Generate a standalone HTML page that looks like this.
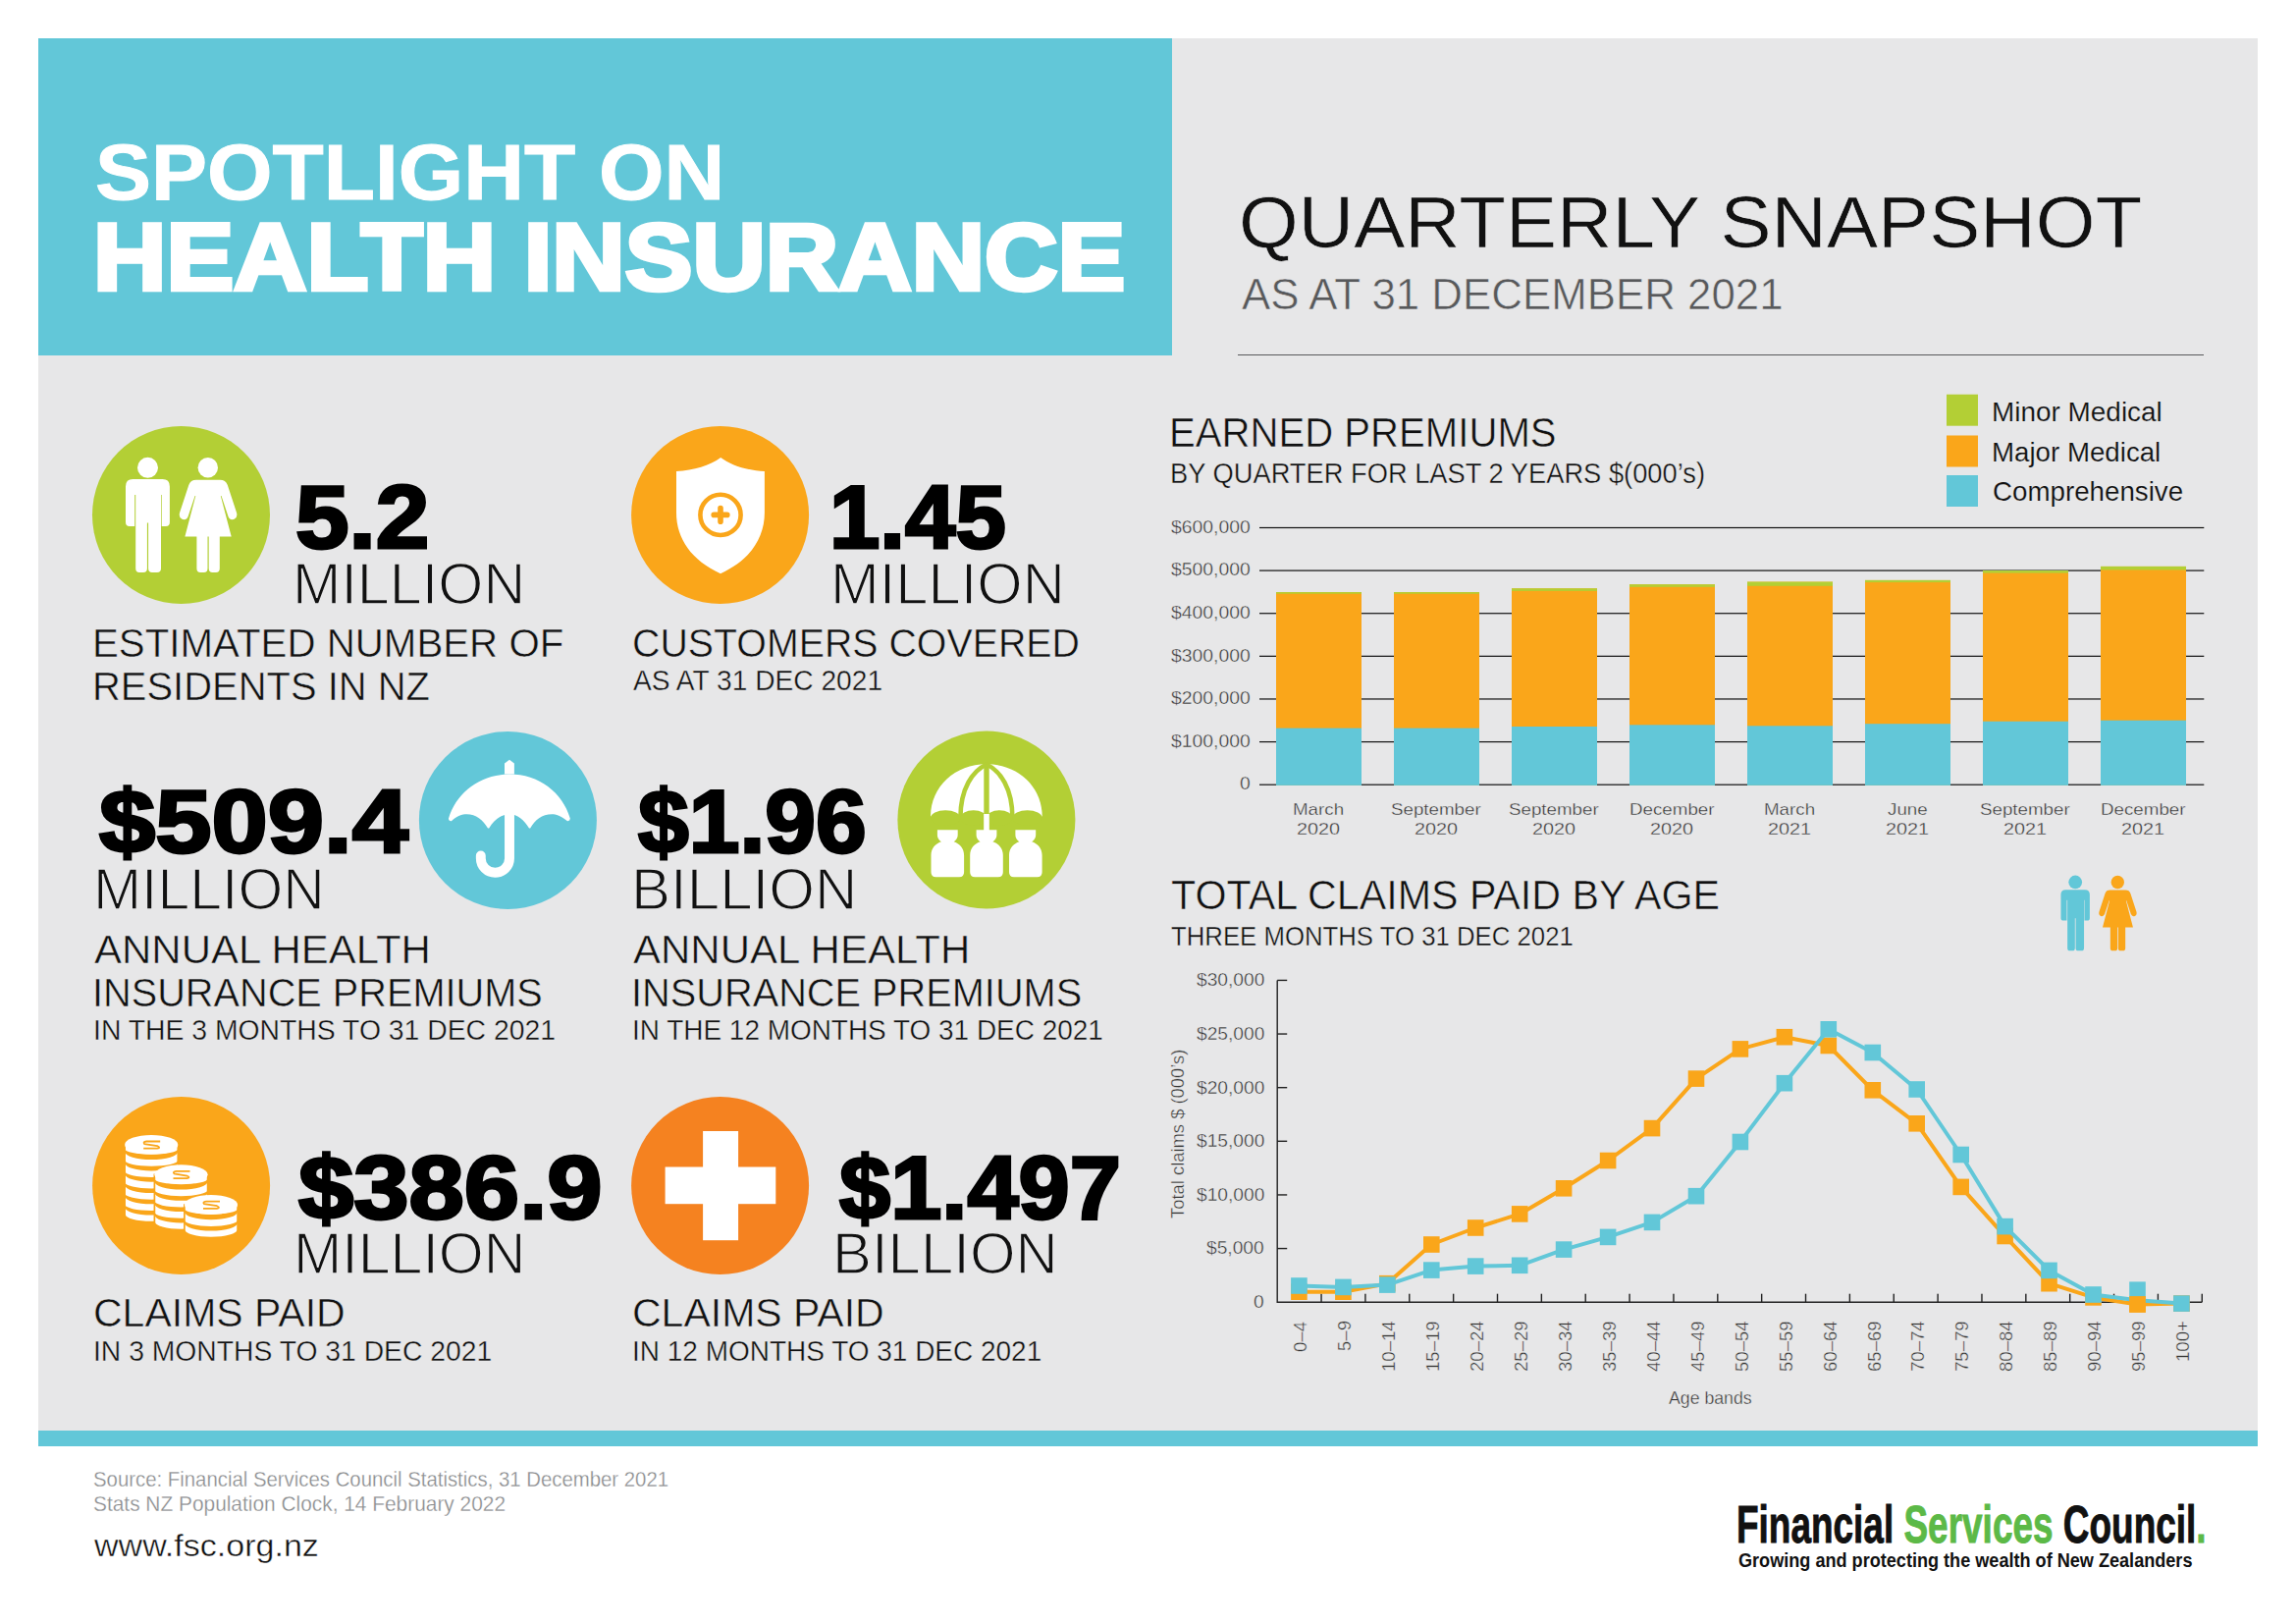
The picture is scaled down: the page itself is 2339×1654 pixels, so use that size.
<!DOCTYPE html>
<html><head><meta charset="utf-8"><title>Spotlight on Health Insurance</title>
<style>
html,body{margin:0;padding:0;background:#fff;}
body{width:2339px;height:1654px;position:relative;overflow:hidden;font-family:"Liberation Sans",sans-serif;}
.t{position:absolute;white-space:nowrap;line-height:1;transform-origin:0 0;margin:0;padding:0;}
svg{position:absolute;left:0;top:0;}
</style></head><body>
<div style="position:absolute;left:39px;top:39px;width:2261px;height:1418px;background:#e7e7e8"></div>
<div style="position:absolute;left:39px;top:39px;width:1155px;height:323px;background:#62c7d8"></div>
<div style="position:absolute;left:39px;top:1457px;width:2261px;height:16px;background:#62c7d8"></div>
<div style="position:absolute;left:1261px;top:360.5px;width:984px;height:1.3px;background:#58595b"></div>
<svg width="2339" height="1654" viewBox="0 0 2339 1654">
<circle cx="184.5" cy="524.5" r="90.5" fill="#b3cf35"/>
<g transform="translate(84,424)" fill="#fff"><circle cx="66.5" cy="52.3" r="10.5"/><path d="M51.4 64 H81.5 Q88.9 64 88.9 71.4 V108 Q88.9 112 84.9 112 H80.7 V80 H80 V155 Q80 158.9 76 158.9 H71 Q67.1 158.9 67.1 155 V108.4 H65.9 V155 Q65.9 158.9 62 158.9 H58 Q54.2 158.9 54.2 155 V80 H53.2 V112 H48 Q44 112 44 108 V71.4 Q44 64 51.4 64 Z"/><circle cx="127.8" cy="52.3" r="10.2"/><path d="M116 64.7 H140 Q146 64.7 147.8 70 L157 98 Q158.4 103 154.6 104.8 Q150.4 106.4 148.5 102 L141.5 81 H140.8 L151.7 122.5 H139.8 V155 Q139.8 158.9 136 158.9 H132.5 Q128.7 158.9 128.7 155 V122.5 H127.5 V155 Q127.5 158.9 123.7 158.9 H120.2 Q116.4 158.9 116.4 155 V122.5 H104.4 L115.3 81 H114.6 L107.6 102 Q105.7 106.4 101.5 104.8 Q97.7 103 99.1 98 L108.3 70 Q110 64.7 116 64.7 Z"/></g>
<circle cx="733.6" cy="524.5" r="90.5" fill="#faa61a"/>
<g transform="translate(633,424)"><path fill="#fff" d="M101.2 41.9 C112 50 128 55 145.9 56 V98 C145.9 125 130 147 101 160.2 C72 147 56 125 56 98 V56 C74 55 90 50 101.2 41.9 Z"/><circle cx="101" cy="100.4" r="20.6" fill="none" stroke="#faa61a" stroke-width="4.6"/><path d="M101 93.6 V107.2 M94.2 100.4 H107.8" stroke="#faa61a" stroke-width="5.6" stroke-linecap="round" fill="none"/></g>
<circle cx="517.4" cy="835.4" r="90.5" fill="#62c7d8"/>
<g transform="translate(417,735)" fill="#fff"><path d="M97 53.5 V42.5 L102 38.8 L106.9 42.5 V53.5 Z"/><path d="M40 98.5 C48 72 72 53.6 102 53.6 C132 53.6 156 72 163.8 98.5 Q164 101.5 161 101.3 C155 96 149 94.2 145.3 94.2 C135 94.2 128 100 123.2 108.6 H122 C117 100 110 94.2 102 94.2 C94 94.2 86 100 81.2 108.6 H80 C75 100 68 94.2 58.5 94.2 C54 94.2 48 96 42.9 101.3 Q39.8 101.5 40 98.5 Z"/><path d="M102 93 V139.2 A14.6 14.6 0 0 1 72.8 139.2 V136.5" fill="none" stroke="#fff" stroke-width="9.9" stroke-linecap="round"/></g>
<circle cx="1004.9" cy="835" r="90.5" fill="#b3cf35"/>
<g transform="translate(905,735)"><path fill="#fff" d="M43 96.6 C43 66 68 43.2 100 43.2 C132 43.2 156.7 66 156.7 96.6 Z"/><path d="M100 42 V97" stroke="#b3cf35" stroke-width="5.4" fill="none"/><path d="M100 43.5 C86 50 73.4 68 73.4 98 M100 43.5 C114 50 126.4 68 126.4 98" stroke="#b3cf35" stroke-width="4.6" fill="none"/><ellipse cx="58.2" cy="98" rx="15.2" ry="7.8" fill="#b3cf35"/><ellipse cx="86.7" cy="98" rx="13.3" ry="7.8" fill="#b3cf35"/><ellipse cx="113.2" cy="98" rx="13.2" ry="7.8" fill="#b3cf35"/><ellipse cx="141.6" cy="98" rx="15.1" ry="7.8" fill="#b3cf35"/><rect x="97.2" y="94" width="5.6" height="18" fill="#fff"/><path fill="#fff" d="M49.9 110.3 H70.7 V115 C70.7 119 68.3 121 66.7 122.3 C72.3 124 77.1 129 77.1 136 V153.3 Q77.1 158.3 72.1 158.3 H48.5 Q43.5 158.3 43.5 153.3 V136 C43.5 129 48.3 124 53.9 122.3 C52.3 121 49.9 119 49.9 115 Z"/><path fill="#fff" d="M89.6 110.3 H110.4 V115 C110.4 119 108.0 121 106.4 122.3 C112.0 124 116.8 129 116.8 136 V153.3 Q116.8 158.3 111.8 158.3 H88.2 Q83.2 158.3 83.2 153.3 V136 C83.2 129 88.0 124 93.6 122.3 C92.0 121 89.6 119 89.6 115 Z"/><path fill="#fff" d="M129.4 110.3 H150.2 V115 C150.2 119 147.8 121 146.2 122.3 C151.8 124 156.6 129 156.6 136 V153.3 Q156.6 158.3 151.6 158.3 H128.0 Q123.0 158.3 123.0 153.3 V136 C123.0 129 127.8 124 133.4 122.3 C131.8 121 129.4 119 129.4 115 Z"/></g>
<circle cx="184.6" cy="1207.6" r="90.5" fill="#faa61a"/>
<g transform="translate(84,1107)"><path d="M43.1 58.9 V130.20 A27.1 7.5 0 0 0 97.30000000000001 130.20 V58.9 Z" fill="#fff" stroke="#faa61a" stroke-width="1.7"/><path d="M43.1 63.20 A27.1 5.4 0 0 0 97.30000000000001 63.20 V66.00 A27.1 8.1 0 0 1 43.1 66.00 Z" fill="#faa61a"/><path d="M43.1 74.50 A27.1 6.3 0 0 0 97.30000000000001 74.50 V77.30 A27.1 8.1 0 0 1 43.1 77.30 Z" fill="#faa61a"/><path d="M43.1 85.80 A27.1 6.3 0 0 0 97.30000000000001 85.80 V88.60 A27.1 8.1 0 0 1 43.1 88.60 Z" fill="#faa61a"/><path d="M43.1 97.10 A27.1 6.3 0 0 0 97.30000000000001 97.10 V99.90 A27.1 8.1 0 0 1 43.1 99.90 Z" fill="#faa61a"/><path d="M43.1 108.40 A27.1 6.3 0 0 0 97.30000000000001 108.40 V111.20 A27.1 8.1 0 0 1 43.1 111.20 Z" fill="#faa61a"/><path d="M43.1 119.70 A27.1 6.3 0 0 0 97.30000000000001 119.70 V122.50 A27.1 8.1 0 0 1 43.1 122.50 Z" fill="#faa61a"/><ellipse cx="70.2" cy="58.9" rx="27.1" ry="9.95" fill="#fff"/><path d="M79.2 55.5 H65.2 Q61.2 55.9 63.2 58.1 L76.2 60.1 Q80.2 61.9 76.2 62.699999999999996 H62.2" fill="none" stroke="#faa61a" stroke-width="1.8"/><path d="M73.4 89.3 V138.00 A27.1 7.5 0 0 0 127.6 138.00 V89.3 Z" fill="#fff" stroke="#faa61a" stroke-width="1.7"/><path d="M73.4 93.60 A27.1 5.4 0 0 0 127.6 93.60 V96.40 A27.1 8.1 0 0 1 73.4 96.40 Z" fill="#faa61a"/><path d="M73.4 104.90 A27.1 6.3 0 0 0 127.6 104.90 V107.70 A27.1 8.1 0 0 1 73.4 107.70 Z" fill="#faa61a"/><path d="M73.4 116.20 A27.1 6.3 0 0 0 127.6 116.20 V119.00 A27.1 8.1 0 0 1 73.4 119.00 Z" fill="#faa61a"/><path d="M73.4 127.50 A27.1 6.3 0 0 0 127.6 127.50 V130.30 A27.1 8.1 0 0 1 73.4 130.30 Z" fill="#faa61a"/><ellipse cx="100.5" cy="89.3" rx="27.1" ry="9.95" fill="#fff"/><path d="M109.5 85.89999999999999 H95.5 Q91.5 86.3 93.5 88.5 L106.5 90.5 Q110.5 92.3 106.5 93.1 H92.5" fill="none" stroke="#faa61a" stroke-width="1.8"/><path d="M103.9 120.0 V146.10 A27.1 7.5 0 0 0 158.1 146.10 V120.0 Z" fill="#fff" stroke="#faa61a" stroke-width="1.7"/><path d="M103.9 124.30 A27.1 5.4 0 0 0 158.1 124.30 V127.10 A27.1 8.1 0 0 1 103.9 127.10 Z" fill="#faa61a"/><path d="M103.9 135.60 A27.1 6.3 0 0 0 158.1 135.60 V138.40 A27.1 8.1 0 0 1 103.9 138.40 Z" fill="#faa61a"/><ellipse cx="131.0" cy="120.0" rx="27.1" ry="9.95" fill="#fff"/><path d="M140.0 116.6 H126.0 Q122.0 117.0 124.0 119.2 L137.0 121.2 Q141.0 123.0 137.0 123.8 H123.0" fill="none" stroke="#faa61a" stroke-width="1.8"/></g>
<circle cx="733.6" cy="1207.6" r="90.5" fill="#f58220"/>
<g transform="translate(633,1107)" fill="#fff"><rect x="83.1" y="45" width="36" height="111.2"/><rect x="44.6" y="81.5" width="112.7" height="37.7"/></g>
<g transform="translate(2070.64,864.24) scale(0.655)" fill="#62c7d8"><circle cx="66.5" cy="52.3" r="10.5"/><path d="M51.4 64 H81.5 Q88.9 64 88.9 71.4 V108 Q88.9 112 84.9 112 H80.7 V80 H80 V155 Q80 158.9 76 158.9 H71 Q67.1 158.9 67.1 155 V108.4 H65.9 V155 Q65.9 158.9 62 158.9 H58 Q54.2 158.9 54.2 155 V80 H53.2 V112 H48 Q44 112 44 108 V71.4 Q44 64 51.4 64 Z"/></g>
<g transform="translate(2073.59,864.24) scale(0.655)" fill="#faa61a"><circle cx="127.8" cy="52.3" r="10.2"/><path d="M116 64.7 H140 Q146 64.7 147.8 70 L157 98 Q158.4 103 154.6 104.8 Q150.4 106.4 148.5 102 L141.5 81 H140.8 L151.7 122.5 H139.8 V155 Q139.8 158.9 136 158.9 H132.5 Q128.7 158.9 128.7 155 V122.5 H127.5 V155 Q127.5 158.9 123.7 158.9 H120.2 Q116.4 158.9 116.4 155 V122.5 H104.4 L115.3 81 H114.6 L107.6 102 Q105.7 106.4 101.5 104.8 Q97.7 103 99.1 98 L108.3 70 Q110 64.7 116 64.7 Z"/></g>
<rect x="1983" y="401.7" width="32" height="32" fill="#b3cf35"/>
<rect x="1983" y="443.5" width="32" height="32" fill="#faa61a"/>
<rect x="1983" y="484" width="32" height="32" fill="#62c7d8"/>
<rect x="1283" y="798.60" width="962.3" height="1.2" fill="#111"/>
<rect x="1283" y="754.98" width="962.3" height="1.2" fill="#111"/>
<rect x="1283" y="711.36" width="962.3" height="1.2" fill="#111"/>
<rect x="1283" y="667.74" width="962.3" height="1.2" fill="#111"/>
<rect x="1283" y="624.12" width="962.3" height="1.2" fill="#111"/>
<rect x="1283" y="580.50" width="962.3" height="1.2" fill="#111"/>
<rect x="1283" y="536.88" width="962.3" height="1.2" fill="#111"/>
<rect x="1300" y="603.1" width="87" height="196.80" fill="#faa61a"/>
<rect x="1300" y="603.1" width="87" height="1.6" fill="#b3cf35"/>
<rect x="1300" y="741.6" width="87" height="58.30" fill="#62c7d8"/>
<rect x="1420" y="603.1" width="87" height="196.80" fill="#faa61a"/>
<rect x="1420" y="603.1" width="87" height="1.6" fill="#b3cf35"/>
<rect x="1420" y="741.6" width="87" height="58.30" fill="#62c7d8"/>
<rect x="1540" y="599.3" width="87" height="200.60" fill="#faa61a"/>
<rect x="1540" y="599.3" width="87" height="2.6" fill="#b3cf35"/>
<rect x="1540" y="740" width="87" height="59.90" fill="#62c7d8"/>
<rect x="1660" y="595.2" width="87" height="204.70" fill="#faa61a"/>
<rect x="1660" y="595.2" width="87" height="2.6" fill="#b3cf35"/>
<rect x="1660" y="738.3" width="87" height="61.60" fill="#62c7d8"/>
<rect x="1780" y="592.6" width="87" height="207.30" fill="#faa61a"/>
<rect x="1780" y="592.6" width="87" height="4.2" fill="#b3cf35"/>
<rect x="1780" y="739.3" width="87" height="60.60" fill="#62c7d8"/>
<rect x="1900" y="590.9" width="87" height="209.00" fill="#faa61a"/>
<rect x="1900" y="590.9" width="87" height="2.2" fill="#b3cf35"/>
<rect x="1900" y="737.2" width="87" height="62.70" fill="#62c7d8"/>
<rect x="2020" y="581" width="87" height="218.90" fill="#faa61a"/>
<rect x="2020" y="581" width="87" height="2.6" fill="#b3cf35"/>
<rect x="2020" y="734.7" width="87" height="65.20" fill="#62c7d8"/>
<rect x="2140" y="576.9" width="87" height="223.00" fill="#faa61a"/>
<rect x="2140" y="576.9" width="87" height="3.6" fill="#b3cf35"/>
<rect x="2140" y="733.7" width="87" height="66.20" fill="#62c7d8"/>
<path d="M1301.2 998.4 V1326.2 H2243.3" fill="none" stroke="#222" stroke-width="1.4"/>
<rect x="1301.2" y="1270.87" width="10" height="1.4" fill="#222"/>
<rect x="1301.2" y="1216.24" width="10" height="1.4" fill="#222"/>
<rect x="1301.2" y="1161.61" width="10" height="1.4" fill="#222"/>
<rect x="1301.2" y="1106.98" width="10" height="1.4" fill="#222"/>
<rect x="1301.2" y="1052.35" width="10" height="1.4" fill="#222"/>
<rect x="1301.2" y="997.72" width="10" height="1.4" fill="#222"/>
<rect x="1345.36" y="1317.7" width="1.4" height="8.5" fill="#222"/>
<rect x="1390.22" y="1317.7" width="1.4" height="8.5" fill="#222"/>
<rect x="1435.08" y="1317.7" width="1.4" height="8.5" fill="#222"/>
<rect x="1479.94" y="1317.7" width="1.4" height="8.5" fill="#222"/>
<rect x="1524.80" y="1317.7" width="1.4" height="8.5" fill="#222"/>
<rect x="1569.66" y="1317.7" width="1.4" height="8.5" fill="#222"/>
<rect x="1614.52" y="1317.7" width="1.4" height="8.5" fill="#222"/>
<rect x="1659.38" y="1317.7" width="1.4" height="8.5" fill="#222"/>
<rect x="1704.24" y="1317.7" width="1.4" height="8.5" fill="#222"/>
<rect x="1749.10" y="1317.7" width="1.4" height="8.5" fill="#222"/>
<rect x="1793.96" y="1317.7" width="1.4" height="8.5" fill="#222"/>
<rect x="1838.82" y="1317.7" width="1.4" height="8.5" fill="#222"/>
<rect x="1883.68" y="1317.7" width="1.4" height="8.5" fill="#222"/>
<rect x="1928.54" y="1317.7" width="1.4" height="8.5" fill="#222"/>
<rect x="1973.40" y="1317.7" width="1.4" height="8.5" fill="#222"/>
<rect x="2018.26" y="1317.7" width="1.4" height="8.5" fill="#222"/>
<rect x="2063.12" y="1317.7" width="1.4" height="8.5" fill="#222"/>
<rect x="2107.98" y="1317.7" width="1.4" height="8.5" fill="#222"/>
<rect x="2152.84" y="1317.7" width="1.4" height="8.5" fill="#222"/>
<rect x="2197.70" y="1317.7" width="1.4" height="8.5" fill="#222"/>
<rect x="2242.56" y="1317.7" width="1.4" height="8.5" fill="#222"/>
<polyline points="1323.4,1315.7 1368.4,1315.7 1413.3,1307.2 1458.2,1267.5 1503.2,1250.5 1548.2,1236.4 1593.1,1210.3 1638.1,1182.0 1683.0,1149.1 1728.0,1098.6 1772.9,1068.4 1817.9,1056.2 1862.8,1065.0 1907.8,1110.3 1952.7,1144.3 1997.7,1208.9 2042.6,1259.0 2087.6,1307.2 2132.5,1321.4 2177.5,1328.4 2222.4,1327.6" fill="none" stroke="#faa61a" stroke-width="4" stroke-linejoin="round"/>
<rect x="1315.1" y="1307.4" width="16.6" height="16.6" fill="#faa61a"/>
<rect x="1360.1" y="1307.4" width="16.6" height="16.6" fill="#faa61a"/>
<rect x="1405.0" y="1298.9" width="16.6" height="16.6" fill="#faa61a"/>
<rect x="1450.0" y="1259.2" width="16.6" height="16.6" fill="#faa61a"/>
<rect x="1494.9" y="1242.2" width="16.6" height="16.6" fill="#faa61a"/>
<rect x="1539.9" y="1228.1" width="16.6" height="16.6" fill="#faa61a"/>
<rect x="1584.8" y="1202.0" width="16.6" height="16.6" fill="#faa61a"/>
<rect x="1629.8" y="1173.7" width="16.6" height="16.6" fill="#faa61a"/>
<rect x="1674.7" y="1140.8" width="16.6" height="16.6" fill="#faa61a"/>
<rect x="1719.7" y="1090.3" width="16.6" height="16.6" fill="#faa61a"/>
<rect x="1764.6" y="1060.1" width="16.6" height="16.6" fill="#faa61a"/>
<rect x="1809.6" y="1047.9" width="16.6" height="16.6" fill="#faa61a"/>
<rect x="1854.5" y="1056.7" width="16.6" height="16.6" fill="#faa61a"/>
<rect x="1899.5" y="1102.0" width="16.6" height="16.6" fill="#faa61a"/>
<rect x="1944.4" y="1136.0" width="16.6" height="16.6" fill="#faa61a"/>
<rect x="1989.4" y="1200.6" width="16.6" height="16.6" fill="#faa61a"/>
<rect x="2034.3" y="1250.7" width="16.6" height="16.6" fill="#faa61a"/>
<rect x="2079.2" y="1298.9" width="16.6" height="16.6" fill="#faa61a"/>
<rect x="2124.2" y="1313.1" width="16.6" height="16.6" fill="#faa61a"/>
<rect x="2169.2" y="1320.1" width="16.6" height="16.6" fill="#faa61a"/>
<rect x="2214.1" y="1319.3" width="16.6" height="16.6" fill="#faa61a"/>
<polyline points="1323.4,1309.5 1368.4,1310.9 1413.3,1308.6 1458.2,1293.6 1503.2,1289.6 1548.2,1288.8 1593.1,1272.6 1638.1,1259.9 1683.0,1244.9 1728.0,1218.2 1772.9,1163.0 1817.9,1103.2 1862.8,1048.3 1907.8,1072.0 1952.7,1109.5 1997.7,1176.0 2042.6,1249.1 2087.6,1293.9 2132.5,1318.5 2177.5,1324.3 2222.4,1327.6" fill="none" stroke="#62c7d8" stroke-width="4" stroke-linejoin="round"/>
<rect x="1315.1" y="1301.2" width="16.6" height="16.6" fill="#62c7d8"/>
<rect x="1360.1" y="1302.6" width="16.6" height="16.6" fill="#62c7d8"/>
<rect x="1405.0" y="1300.3" width="16.6" height="16.6" fill="#62c7d8"/>
<rect x="1450.0" y="1285.3" width="16.6" height="16.6" fill="#62c7d8"/>
<rect x="1494.9" y="1281.3" width="16.6" height="16.6" fill="#62c7d8"/>
<rect x="1539.9" y="1280.5" width="16.6" height="16.6" fill="#62c7d8"/>
<rect x="1584.8" y="1264.3" width="16.6" height="16.6" fill="#62c7d8"/>
<rect x="1629.8" y="1251.6" width="16.6" height="16.6" fill="#62c7d8"/>
<rect x="1674.7" y="1236.6" width="16.6" height="16.6" fill="#62c7d8"/>
<rect x="1719.7" y="1209.9" width="16.6" height="16.6" fill="#62c7d8"/>
<rect x="1764.6" y="1154.7" width="16.6" height="16.6" fill="#62c7d8"/>
<rect x="1809.6" y="1094.9" width="16.6" height="16.6" fill="#62c7d8"/>
<rect x="1854.5" y="1040.0" width="16.6" height="16.6" fill="#62c7d8"/>
<rect x="1899.5" y="1063.7" width="16.6" height="16.6" fill="#62c7d8"/>
<rect x="1944.4" y="1101.2" width="16.6" height="16.6" fill="#62c7d8"/>
<rect x="1989.4" y="1167.7" width="16.6" height="16.6" fill="#62c7d8"/>
<rect x="2034.3" y="1240.8" width="16.6" height="16.6" fill="#62c7d8"/>
<rect x="2079.2" y="1285.6" width="16.6" height="16.6" fill="#62c7d8"/>
<rect x="2124.2" y="1310.2" width="16.6" height="16.6" fill="#62c7d8"/>
<rect x="2169.2" y="1305.4" width="16.6" height="16.6" fill="#62c7d8"/>
<rect x="2214.1" y="1319.3" width="16.6" height="16.6" fill="#62c7d8"/>
<rect x="2169.2" y="1320.1" width="16.6" height="16.6" fill="#faa61a"/>
</svg>
<div class="t" style="left:96.97px;top:135.83px;font-size:79.94px;color:#fff;transform:scaleX(1.0696);font-weight:700;-webkit-text-stroke:1.00px #fff;">SPOTLIGHT ON</div>
<div class="t" style="left:95.44px;top:212.93px;font-size:96.66px;color:#fff;transform:scaleX(1.0658);font-weight:700;-webkit-text-stroke:4.50px #fff;">HEALTH INSURANCE</div>
<div class="t" style="left:1262.48px;top:189.01px;font-size:75.00px;color:#111;transform:scaleX(1.0414);-webkit-text-stroke:0.60px #e7e7e8;">QUARTERLY SNAPSHOT</div>
<div class="t" style="left:1264.61px;top:278.29px;font-size:43.70px;color:#58595b;transform:scaleX(1.0036);-webkit-text-stroke:0.57px #e7e7e8;">AS AT 31 DECEMBER 2021</div>
<div class="t" style="left:300.69px;top:481.62px;font-size:90.12px;color:#000;transform:scaleX(1.0886);font-weight:700;-webkit-text-stroke:3.00px #000;">5.2</div>
<div class="t" style="left:297.80px;top:565.53px;font-size:59.04px;color:#111;transform:scaleX(1.0043);-webkit-text-stroke:1.42px #e7e7e8;">MILLION</div>
<div class="t" style="left:94.41px;top:634.50px;font-size:40.59px;color:#111;transform:scaleX(0.9925);-webkit-text-stroke:0.53px #e7e7e8;">ESTIMATED NUMBER OF</div>
<div class="t" style="left:94.44px;top:678.70px;font-size:40.59px;color:#111;transform:scaleX(0.9843);-webkit-text-stroke:0.53px #e7e7e8;">RESIDENTS IN NZ</div>
<div class="t" style="left:845.36px;top:481.62px;font-size:90.12px;color:#000;transform:scaleX(1.0249);font-weight:700;-webkit-text-stroke:3.00px #000;">1.45</div>
<div class="t" style="left:845.76px;top:565.53px;font-size:59.04px;color:#111;transform:scaleX(1.0110);-webkit-text-stroke:1.42px #e7e7e8;">MILLION</div>
<div class="t" style="left:644.28px;top:634.50px;font-size:40.59px;color:#111;transform:scaleX(0.9691);-webkit-text-stroke:0.53px #e7e7e8;">CUSTOMERS COVERED</div>
<div class="t" style="left:645.45px;top:677.76px;font-size:29.33px;color:#111;transform:scaleX(0.9600);-webkit-text-stroke:0.38px #e7e7e8;">AS AT 31 DEC 2021</div>
<div class="t" style="left:101.00px;top:791.29px;font-size:91.57px;color:#000;transform:scaleX(1.1245);font-weight:700;-webkit-text-stroke:3.00px #000;">$509.4</div>
<div class="t" style="left:95.03px;top:876.73px;font-size:59.04px;color:#111;transform:scaleX(0.9985);-webkit-text-stroke:1.42px #e7e7e8;">MILLION</div>
<div class="t" style="left:95.62px;top:946.80px;font-size:40.59px;color:#111;transform:scaleX(1.0346);-webkit-text-stroke:0.53px #e7e7e8;">ANNUAL HEALTH</div>
<div class="t" style="left:94.07px;top:990.90px;font-size:40.59px;color:#111;transform:scaleX(0.9783);-webkit-text-stroke:0.53px #e7e7e8;">INSURANCE PREMIUMS</div>
<div class="t" style="left:95.19px;top:1034.36px;font-size:29.33px;color:#111;transform:scaleX(0.9665);-webkit-text-stroke:0.38px #e7e7e8;">IN THE 3 MONTHS TO 31 DEC 2021</div>
<div class="t" style="left:649.96px;top:791.29px;font-size:91.57px;color:#000;transform:scaleX(1.0158);font-weight:700;-webkit-text-stroke:3.00px #000;">$1.96</div>
<div class="t" style="left:643.32px;top:876.73px;font-size:59.04px;color:#111;transform:scaleX(1.0174);-webkit-text-stroke:1.42px #e7e7e8;">BILLION</div>
<div class="t" style="left:645.32px;top:946.80px;font-size:40.59px;color:#111;transform:scaleX(1.0355);-webkit-text-stroke:0.53px #e7e7e8;">ANNUAL HEALTH</div>
<div class="t" style="left:643.06px;top:990.90px;font-size:40.59px;color:#111;transform:scaleX(0.9792);-webkit-text-stroke:0.53px #e7e7e8;">INSURANCE PREMIUMS</div>
<div class="t" style="left:644.23px;top:1034.36px;font-size:29.33px;color:#111;transform:scaleX(0.9527);-webkit-text-stroke:0.38px #e7e7e8;">IN THE 12 MONTHS TO 31 DEC 2021</div>
<div class="t" style="left:304.39px;top:1163.99px;font-size:91.57px;color:#000;transform:scaleX(1.1054);font-weight:700;-webkit-text-stroke:3.00px #000;">$386.9</div>
<div class="t" style="left:298.91px;top:1248.43px;font-size:59.04px;color:#111;transform:scaleX(1.0016);-webkit-text-stroke:1.42px #e7e7e8;">MILLION</div>
<div class="t" style="left:95.18px;top:1317.20px;font-size:40.59px;color:#111;transform:scaleX(1.0103);-webkit-text-stroke:0.53px #e7e7e8;">CLAIMS PAID</div>
<div class="t" style="left:95.20px;top:1360.66px;font-size:29.33px;color:#111;transform:scaleX(0.9648);-webkit-text-stroke:0.38px #e7e7e8;">IN 3 MONTHS TO 31 DEC 2021</div>
<div class="t" style="left:855.16px;top:1163.99px;font-size:91.57px;color:#000;transform:scaleX(1.0247);font-weight:700;-webkit-text-stroke:3.00px #000;">$1.497</div>
<div class="t" style="left:848.34px;top:1248.43px;font-size:59.04px;color:#111;transform:scaleX(1.0151);-webkit-text-stroke:1.42px #e7e7e8;">BILLION</div>
<div class="t" style="left:644.18px;top:1317.20px;font-size:40.59px;color:#111;transform:scaleX(1.0103);-webkit-text-stroke:0.53px #e7e7e8;">CLAIMS PAID</div>
<div class="t" style="left:644.23px;top:1360.66px;font-size:29.33px;color:#111;transform:scaleX(0.9539);-webkit-text-stroke:0.38px #e7e7e8;">IN 12 MONTHS TO 31 DEC 2021</div>
<div class="t" style="left:1190.83px;top:419.73px;font-size:42.22px;color:#111;transform:scaleX(0.9503);-webkit-text-stroke:0.55px #e7e7e8;">EARNED PREMIUMS</div>
<div class="t" style="left:1191.57px;top:467.53px;font-size:28.89px;color:#111;transform:scaleX(0.9451);-webkit-text-stroke:0.38px #e7e7e8;">BY QUARTER FOR LAST 2 YEARS $(000’s)</div>
<div class="t" style="left:2029.11px;top:407.07px;font-size:26.83px;color:#111;transform:scaleX(1.0408);-webkit-text-stroke:0.16px #e7e7e8;">Minor Medical</div>
<div class="t" style="left:2029.13px;top:447.77px;font-size:26.83px;color:#111;transform:scaleX(1.0316);-webkit-text-stroke:0.16px #e7e7e8;">Major Medical</div>
<div class="t" style="left:2030.03px;top:488.07px;font-size:26.83px;color:#111;transform:scaleX(1.0332);-webkit-text-stroke:0.16px #e7e7e8;">Comprehensive</div>
<div class="t" style="left:1263.37px;top:790.45px;font-size:17.51px;color:#333;transform:scaleX(1.1064);-webkit-text-stroke:0.35px #e7e7e8;">0</div>
<div class="t" style="left:1193.31px;top:746.83px;font-size:17.51px;color:#333;transform:scaleX(1.1064);-webkit-text-stroke:0.35px #e7e7e8;">$100,000</div>
<div class="t" style="left:1193.31px;top:703.21px;font-size:17.51px;color:#333;transform:scaleX(1.1064);-webkit-text-stroke:0.35px #e7e7e8;">$200,000</div>
<div class="t" style="left:1193.31px;top:659.59px;font-size:17.51px;color:#333;transform:scaleX(1.1064);-webkit-text-stroke:0.35px #e7e7e8;">$300,000</div>
<div class="t" style="left:1193.31px;top:615.97px;font-size:17.51px;color:#333;transform:scaleX(1.1064);-webkit-text-stroke:0.35px #e7e7e8;">$400,000</div>
<div class="t" style="left:1193.31px;top:572.35px;font-size:17.51px;color:#333;transform:scaleX(1.1064);-webkit-text-stroke:0.35px #e7e7e8;">$500,000</div>
<div class="t" style="left:1193.31px;top:528.73px;font-size:17.51px;color:#333;transform:scaleX(1.1064);-webkit-text-stroke:0.35px #e7e7e8;">$600,000</div>
<div class="t" style="left:1317.25px;top:816.30px;font-size:17.22px;color:#333;transform:scaleX(1.0900);-webkit-text-stroke:0.34px #e7e7e8;">March</div>
<div class="t" style="left:1321.38px;top:836.20px;font-size:17.22px;color:#333;transform:scaleX(1.1500);-webkit-text-stroke:0.34px #e7e7e8;">2020</div>
<div class="t" style="left:1417.34px;top:816.30px;font-size:17.22px;color:#333;transform:scaleX(1.0900);-webkit-text-stroke:0.34px #e7e7e8;">September</div>
<div class="t" style="left:1441.38px;top:836.20px;font-size:17.22px;color:#333;transform:scaleX(1.1500);-webkit-text-stroke:0.34px #e7e7e8;">2020</div>
<div class="t" style="left:1537.34px;top:816.30px;font-size:17.22px;color:#333;transform:scaleX(1.0900);-webkit-text-stroke:0.34px #e7e7e8;">September</div>
<div class="t" style="left:1561.38px;top:836.20px;font-size:17.22px;color:#333;transform:scaleX(1.1500);-webkit-text-stroke:0.34px #e7e7e8;">2020</div>
<div class="t" style="left:1659.59px;top:816.30px;font-size:17.22px;color:#333;transform:scaleX(1.0900);-webkit-text-stroke:0.34px #e7e7e8;">December</div>
<div class="t" style="left:1681.38px;top:836.20px;font-size:17.22px;color:#333;transform:scaleX(1.1500);-webkit-text-stroke:0.34px #e7e7e8;">2020</div>
<div class="t" style="left:1797.25px;top:816.30px;font-size:17.22px;color:#333;transform:scaleX(1.0900);-webkit-text-stroke:0.34px #e7e7e8;">March</div>
<div class="t" style="left:1801.47px;top:836.20px;font-size:17.22px;color:#333;transform:scaleX(1.1500);-webkit-text-stroke:0.34px #e7e7e8;">2021</div>
<div class="t" style="left:1923.42px;top:816.30px;font-size:17.22px;color:#333;transform:scaleX(1.0900);-webkit-text-stroke:0.34px #e7e7e8;">June</div>
<div class="t" style="left:1921.47px;top:836.20px;font-size:17.22px;color:#333;transform:scaleX(1.1500);-webkit-text-stroke:0.34px #e7e7e8;">2021</div>
<div class="t" style="left:2017.34px;top:816.30px;font-size:17.22px;color:#333;transform:scaleX(1.0900);-webkit-text-stroke:0.34px #e7e7e8;">September</div>
<div class="t" style="left:2041.47px;top:836.20px;font-size:17.22px;color:#333;transform:scaleX(1.1500);-webkit-text-stroke:0.34px #e7e7e8;">2021</div>
<div class="t" style="left:2139.59px;top:816.30px;font-size:17.22px;color:#333;transform:scaleX(1.0900);-webkit-text-stroke:0.34px #e7e7e8;">December</div>
<div class="t" style="left:2161.47px;top:836.20px;font-size:17.22px;color:#333;transform:scaleX(1.1500);-webkit-text-stroke:0.34px #e7e7e8;">2021</div>
<div class="t" style="left:1193.20px;top:890.91px;font-size:41.78px;color:#111;transform:scaleX(0.9871);-webkit-text-stroke:0.54px #e7e7e8;">TOTAL CLAIMS PAID BY AGE</div>
<div class="t" style="left:1193.25px;top:938.81px;font-size:28.44px;color:#111;transform:scaleX(0.9057);-webkit-text-stroke:0.37px #e7e7e8;">THREE MONTHS TO 31 DEC 2021</div>
<div class="t" style="left:1277.37px;top:1317.02px;font-size:18.26px;color:#333;transform:scaleX(1.0503);-webkit-text-stroke:0.37px #e7e7e8;">0</div>
<div class="t" style="left:1229.36px;top:1262.39px;font-size:18.26px;color:#333;transform:scaleX(1.0503);-webkit-text-stroke:0.37px #e7e7e8;">$5,000</div>
<div class="t" style="left:1218.72px;top:1207.76px;font-size:18.26px;color:#333;transform:scaleX(1.0503);-webkit-text-stroke:0.37px #e7e7e8;">$10,000</div>
<div class="t" style="left:1218.72px;top:1153.13px;font-size:18.26px;color:#333;transform:scaleX(1.0503);-webkit-text-stroke:0.37px #e7e7e8;">$15,000</div>
<div class="t" style="left:1218.72px;top:1098.50px;font-size:18.26px;color:#333;transform:scaleX(1.0503);-webkit-text-stroke:0.37px #e7e7e8;">$20,000</div>
<div class="t" style="left:1218.72px;top:1043.87px;font-size:18.26px;color:#333;transform:scaleX(1.0503);-webkit-text-stroke:0.37px #e7e7e8;">$25,000</div>
<div class="t" style="left:1218.72px;top:989.24px;font-size:18.26px;color:#333;transform:scaleX(1.0503);-webkit-text-stroke:0.37px #e7e7e8;">$30,000</div>
<div class="t" style="left:1332.19px;top:1376.58px;font-size:18.86px;color:#333;-webkit-text-stroke:0.38px #e7e7e8;transform:rotate(-90deg) scaleX(0.9850) translateY(-15.97px);">0–4</div>
<div class="t" style="left:1377.14px;top:1376.26px;font-size:18.86px;color:#333;-webkit-text-stroke:0.38px #e7e7e8;transform:rotate(-90deg) scaleX(0.9850) translateY(-15.97px);">5–9</div>
<div class="t" style="left:1422.09px;top:1397.25px;font-size:18.86px;color:#333;-webkit-text-stroke:0.38px #e7e7e8;transform:rotate(-90deg) scaleX(0.9850) translateY(-15.97px);">10–14</div>
<div class="t" style="left:1467.04px;top:1396.93px;font-size:18.86px;color:#333;-webkit-text-stroke:0.38px #e7e7e8;transform:rotate(-90deg) scaleX(0.9850) translateY(-15.97px);">15–19</div>
<div class="t" style="left:1511.99px;top:1397.25px;font-size:18.86px;color:#333;-webkit-text-stroke:0.38px #e7e7e8;transform:rotate(-90deg) scaleX(0.9850) translateY(-15.97px);">20–24</div>
<div class="t" style="left:1556.94px;top:1396.93px;font-size:18.86px;color:#333;-webkit-text-stroke:0.38px #e7e7e8;transform:rotate(-90deg) scaleX(0.9850) translateY(-15.97px);">25–29</div>
<div class="t" style="left:1601.89px;top:1397.25px;font-size:18.86px;color:#333;-webkit-text-stroke:0.38px #e7e7e8;transform:rotate(-90deg) scaleX(0.9850) translateY(-15.97px);">30–34</div>
<div class="t" style="left:1646.84px;top:1396.93px;font-size:18.86px;color:#333;-webkit-text-stroke:0.38px #e7e7e8;transform:rotate(-90deg) scaleX(0.9850) translateY(-15.97px);">35–39</div>
<div class="t" style="left:1691.79px;top:1397.25px;font-size:18.86px;color:#333;-webkit-text-stroke:0.38px #e7e7e8;transform:rotate(-90deg) scaleX(0.9850) translateY(-15.97px);">40–44</div>
<div class="t" style="left:1736.74px;top:1396.93px;font-size:18.86px;color:#333;-webkit-text-stroke:0.38px #e7e7e8;transform:rotate(-90deg) scaleX(0.9850) translateY(-15.97px);">45–49</div>
<div class="t" style="left:1781.69px;top:1397.25px;font-size:18.86px;color:#333;-webkit-text-stroke:0.38px #e7e7e8;transform:rotate(-90deg) scaleX(0.9850) translateY(-15.97px);">50–54</div>
<div class="t" style="left:1826.64px;top:1396.93px;font-size:18.86px;color:#333;-webkit-text-stroke:0.38px #e7e7e8;transform:rotate(-90deg) scaleX(0.9850) translateY(-15.97px);">55–59</div>
<div class="t" style="left:1871.59px;top:1397.25px;font-size:18.86px;color:#333;-webkit-text-stroke:0.38px #e7e7e8;transform:rotate(-90deg) scaleX(0.9850) translateY(-15.97px);">60–64</div>
<div class="t" style="left:1916.54px;top:1396.93px;font-size:18.86px;color:#333;-webkit-text-stroke:0.38px #e7e7e8;transform:rotate(-90deg) scaleX(0.9850) translateY(-15.97px);">65–69</div>
<div class="t" style="left:1961.49px;top:1397.25px;font-size:18.86px;color:#333;-webkit-text-stroke:0.38px #e7e7e8;transform:rotate(-90deg) scaleX(0.9850) translateY(-15.97px);">70–74</div>
<div class="t" style="left:2006.44px;top:1396.93px;font-size:18.86px;color:#333;-webkit-text-stroke:0.38px #e7e7e8;transform:rotate(-90deg) scaleX(0.9850) translateY(-15.97px);">75–79</div>
<div class="t" style="left:2051.39px;top:1397.25px;font-size:18.86px;color:#333;-webkit-text-stroke:0.38px #e7e7e8;transform:rotate(-90deg) scaleX(0.9850) translateY(-15.97px);">80–84</div>
<div class="t" style="left:2096.34px;top:1396.93px;font-size:18.86px;color:#333;-webkit-text-stroke:0.38px #e7e7e8;transform:rotate(-90deg) scaleX(0.9850) translateY(-15.97px);">85–89</div>
<div class="t" style="left:2141.29px;top:1397.25px;font-size:18.86px;color:#333;-webkit-text-stroke:0.38px #e7e7e8;transform:rotate(-90deg) scaleX(0.9850) translateY(-15.97px);">90–94</div>
<div class="t" style="left:2186.24px;top:1396.93px;font-size:18.86px;color:#333;-webkit-text-stroke:0.38px #e7e7e8;transform:rotate(-90deg) scaleX(0.9850) translateY(-15.97px);">95–99</div>
<div class="t" style="left:2231.19px;top:1387.04px;font-size:18.86px;color:#333;-webkit-text-stroke:0.38px #e7e7e8;transform:rotate(-90deg) scaleX(0.9850) translateY(-15.97px);">100+</div>
<div class="t" style="left:1206.08px;top:1241.20px;font-size:18.26px;color:#333;-webkit-text-stroke:0.37px #e7e7e8;transform:rotate(-90deg) scaleX(1.0074) translateY(-15.46px);">Total claims $ (000’s)</div>
<div class="t" style="left:1700.48px;top:1415.12px;font-size:18.26px;color:#333;transform:scaleX(0.9699);-webkit-text-stroke:0.37px #e7e7e8;">Age bands</div>
<div class="t" style="left:94.75px;top:1494.86px;font-size:22.67px;color:#8a8c8e;transform:scaleX(0.8985);-webkit-text-stroke:0.29px #fff;">Source: Financial Services Council Statistics, 31 December 2021</div>
<div class="t" style="left:94.72px;top:1520.36px;font-size:22.67px;color:#8a8c8e;transform:scaleX(0.9213);-webkit-text-stroke:0.29px #fff;">Stats NZ Population Clock, 14 February 2022</div>
<div class="t" style="left:95.66px;top:1558.12px;font-size:32.00px;color:#111;transform:scaleX(1.0635);-webkit-text-stroke:0.42px #fff;">www.fsc.org.nz</div>
<div class="t" style="left:1769.30px;top:1526.03px;font-size:53.60px;font-weight:700;color:#111;-webkit-text-stroke-width:0.9px;transform:scaleX(0.6896);">Financial <span style="color:#5cb947">Services</span> Council<span style="color:#5cb947">.</span></div>
<div class="t" style="left:1771.08px;top:1579.71px;font-size:19.48px;color:#111;transform:scaleX(0.9294);font-weight:700;">Growing and protecting the wealth of New Zealanders</div>
</body></html>
